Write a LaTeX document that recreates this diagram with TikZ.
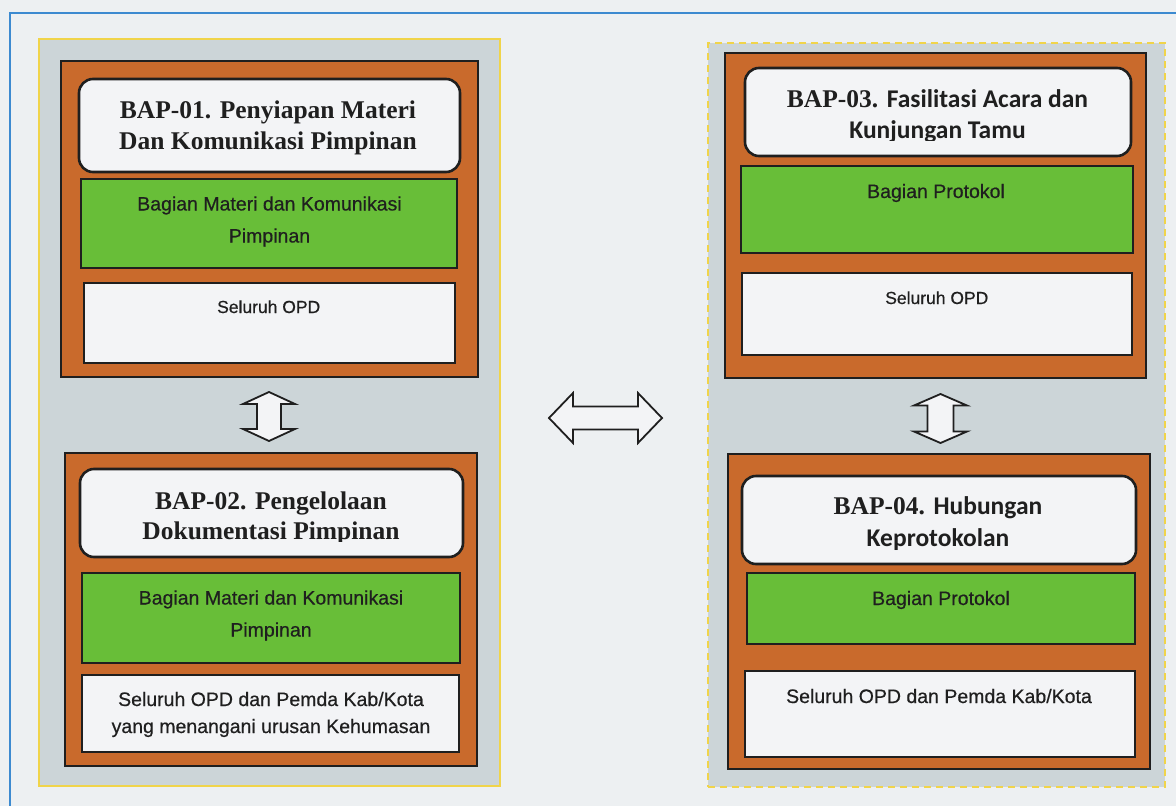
\documentclass[tikz,border=0pt]{standalone}
\usepackage{fontspec}
\setmainfont{Liberation Serif}
\newfontfamily\labelsans[FakeBold=0.5]{Liberation Sans}
\newfontfamily\headsans{Carlito}
\definecolor{paper}{HTML}{EDF0F2}
\definecolor{panelgray}{HTML}{CCD5D8}
\definecolor{rimyellow}{HTML}{F0D44A}
\definecolor{frameblue}{HTML}{3C8AD0}
\definecolor{boxorange}{HTML}{C96A2C}
\definecolor{boxgreen}{HTML}{68BE38}
\definecolor{boxwhite}{HTML}{F3F4F6}
\definecolor{ink}{HTML}{1F1F1F}
\begin{document}
\begin{tikzpicture}[x=1pt,y=-1pt,
  size/.style 2 args={minimum width=#1pt, minimum height=#2pt},
  shape base/.style={inner sep=0pt, outer sep=0pt},
  panel/.style={shape base, fill=panelgray, draw=rimyellow, line width=1.6pt},
  dashpanel/.style={panel, dash pattern=on 7pt off 5pt},
  orangebox/.style={shape base, fill=boxorange, draw=ink, line width=2.6pt},
  titlebox/.style={shape base, fill=boxwhite, draw=ink, line width=2.6pt, rounded corners=14pt},
  greenbox/.style={shape base, fill=boxgreen, draw=ink, line width=2.6pt},
  whitebox/.style={shape base, fill=boxwhite, draw=ink, line width=2.6pt},
  headline/.style={inner sep=0pt, anchor=base, text=ink, font=\fontsize{25.5}{31}\selectfont\bfseries},
  bodyline/.style={inner sep=0pt, anchor=base, text=ink, font=\labelsans\fontsize{19.5}{27}\selectfont},
  smallline/.style={inner sep=0pt, anchor=base, text=ink, font=\labelsans\fontsize{17.5}{22}\selectfont},
  blockarrow/.style={fill=boxwhite, draw=ink, line width=1.8pt, line join=miter}
]
% page and frame
\path[use as bounding box, fill=paper] (0,0) rectangle (1176,806);
\draw[frameblue, line width=1.6pt] (10,806) -- (10,13) -- (1176,13);

% two group panels
\node[panel, size={461}{747}] (pl) at (269.5,412.5) {};
\node[dashpanel, size={457}{744}] (pr) at (936.5,415) {};

% ---------- BAP-01 ----------
\node[orangebox, size={417}{316}] (b1) at (269.5,219) {};
\node[titlebox, size={381}{93}] (h1) at (269.5,125.5) {};
\node[greenbox, size={376}{89}] (g1) at (269,223.5) {};
\node[whitebox, size={371}{80}] (w1) at (269.5,323) {};
\node[headline] (h1a) at (268,118) {BAP-01. Penyiapan Materi};
\node[headline] (h1b) at (268,149) {Dan Komunikasi Pimpinan};
\node[bodyline] (g1a) at (269.5,210.5) {Bagian Materi dan Komunikasi};
\node[bodyline] (g1b) at (269.5,242.5) {Pimpinan};
\node[smallline] (w1a) at (268.7,313) {Seluruh OPD};

% ---------- BAP-02 ----------
\node[orangebox, size={412}{313}] (b2) at (271,609.5) {};
\node[titlebox, size={383}{88}] (h2) at (271.5,513) {};
\node[greenbox, size={378}{90}] (g2) at (271,618) {};
\node[whitebox, size={377}{77}] (w2) at (270.5,713.5) {};
\node[headline] (h2a) at (271,509) {BAP-02. Pengelolaan};
\begin{scope}
  \clip (80,515) rectangle (463,541.5);
  \node[headline] (h2b) at (271,539) {Dokumentasi Pimpinan};
\end{scope}
\node[bodyline] (g2a) at (271,604.5) {Bagian Materi dan Komunikasi};
\node[bodyline] (g2b) at (271,636.5) {Pimpinan};
\node[bodyline] (w2a) at (271,706) {Seluruh OPD dan Pemda Kab/Kota};
\node[bodyline] (w2b) at (271,733) {yang menangani urusan Kehumasan};

% ---------- BAP-03 ----------
\node[orangebox, size={421}{325}] (b3) at (935.5,215.5) {};
\node[titlebox, size={386}{88}] (h3) at (938,112) {};
\node[greenbox, size={392}{87}] (g3) at (937,209.5) {};
\node[whitebox, size={390}{82}] (w3) at (937,314) {};
\node[headline] (h3a) at (937.5,107) {BAP-03. {\headsans Fasilitasi Acara dan}};
\begin{scope}
  \clip (745,114) rectangle (1131,140.8);
  \node[headline] (h3b) at (937.5,138.3) {\headsans Kunjungan Tamu};
\end{scope}
\node[bodyline] (g3a) at (936,198) {Bagian Protokol};
\node[smallline] (w3a) at (936.8,304) {Seluruh OPD};

% ---------- BAP-04 ----------
\node[orangebox, size={422}{315}] (b4) at (939,611.5) {};
\node[titlebox, size={394}{88}] (h4) at (939,520) {};
\node[greenbox, size={388}{71}] (g4) at (941,608.5) {};
\node[whitebox, size={390}{86}] (w4) at (940,714) {};
\node[headline] (h4a) at (938,514) {BAP-04. {\headsans Hubungan}};
\node[headline] (h4b) at (938,546) {\headsans Keprotokolan};
\node[bodyline] (g4a) at (941,605) {Bagian Protokol};
\node[bodyline] (w4a) at (939,703) {Seluruh OPD dan Pemda Kab/Kota};

% ---------- block arrows between the boxes and the groups ----------
\coordinate (m12) at (269,416.5);
\coordinate (m34) at (940.5,418.5);
\coordinate (mlr) at (605.5,418);
\draw[blockarrow, shift={(m12)}]
  (0,-24.5) -- (26,-12.5) -- (12,-12.5) -- (12,12.5) -- (26,12.5) -- (0,24.5)
  -- (-26,12.5) -- (-12,12.5) -- (-12,-12.5) -- (-26,-12.5) -- cycle;
\draw[blockarrow, shift={(m34)}]
  (0,-24.5) -- (26.5,-13) -- (13,-13) -- (13,13) -- (26.5,13) -- (0,24.5)
  -- (-26.5,13) -- (-13,13) -- (-13,-13) -- (-26.5,-13) -- cycle;
\draw[blockarrow, shift={(mlr)}]
  (-56.5,0) -- (-32.5,-25) -- (-32.5,-11.5) -- (32.5,-11.5) -- (32.5,-25) -- (56.5,0)
  -- (32.5,25) -- (32.5,11.5) -- (-32.5,11.5) -- (-32.5,25) -- cycle;
\end{tikzpicture}
\end{document}
